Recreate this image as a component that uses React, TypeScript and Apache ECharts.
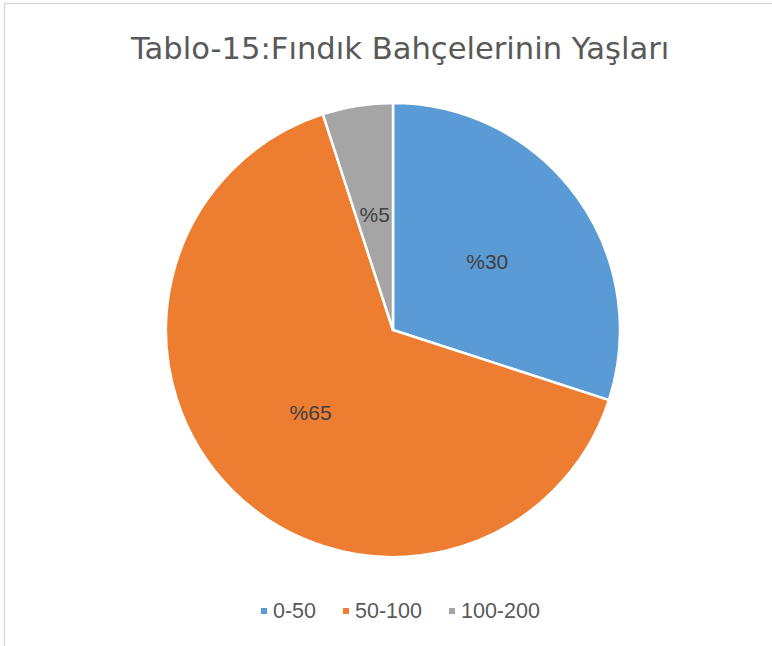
import React, { useEffect, useRef } from "react";
import * as echarts from "echarts";

const titleText = "Tablo-15:Fındık Bahçelerinin Yaşları";
const categories = ["0-50", "50-100", "100-200"];
const values = [30, 65, 5];
const colors = ["#5b9bd5", "#ed7d31", "#a5a5a5"];

export default function App() {
  const ref = useRef<HTMLDivElement>(null);
  useEffect(() => {
    if (!ref.current) return;
    const chart = echarts.init(ref.current, null, { renderer: "svg" });
    chart.setOption({
      animation: false,
      backgroundColor: "#ffffff",
      title: {
        text: titleText,
        left: 126,
        top: 28,
        textStyle: {
          fontFamily: "DejaVu Sans",
          fontSize: 30.6,
          fontWeight: "normal",
          color: "#595959",
        },
      },
      legend: {
        data: categories,
        top: 595,
        left: 254,
        icon: "rect",
        itemWidth: 8,
        itemHeight: 8,
        itemGap: 25,
        textStyle: {
          fontFamily: "Liberation Sans",
          fontSize: 21.5,
          color: "#595959",
        },
      },
      graphic: [
        {
          type: "rect",
          shape: { x: 4.5, y: 3.5, width: 800, height: 700 },
          style: { fill: "none", stroke: "#d9d9d9", lineWidth: 1.5 },
          silent: true,
        },
      ],
      series: [
        {
          type: "pie",
          center: [393, 330],
          radius: 227,
          startAngle: 90,
          clockwise: true,
          data: categories.map((c, i) => ({
            name: c,
            value: values[i],
            itemStyle: { color: colors[i] },
          })),
          itemStyle: { borderColor: "#ffffff", borderWidth: 2.5 },
          label: {
            show: true,
            position: "inside",
            formatter: (p: any) => "%" + p.value,
            fontFamily: "Liberation Sans",
            fontSize: 21,
            color: "#404040",
          },
          labelLine: { show: false },
          emphasis: { disabled: true },
        },
      ],
    });
    return () => chart.dispose();
  }, []);
  return (
    <div
      ref={ref}
      style={{ position: "fixed", left: 0, top: 0, width: 772, height: 646 }}
    />
  );
}
